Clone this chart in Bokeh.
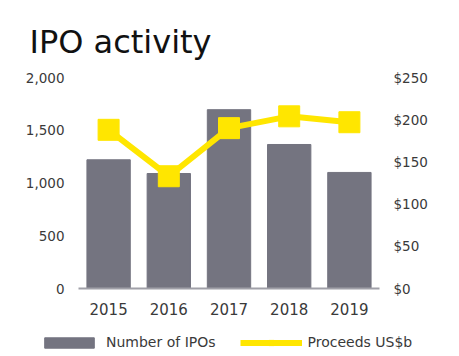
from bokeh.plotting import figure
from bokeh.models import (FactorRange, Range1d, LinearAxis, FixedTicker, NumeralTickFormatter,
                          Legend, LegendItem, Title, ColumnDataSource)
from bokeh.embed import file_html
from bokeh.resources import INLINE

years = ["2015", "2016", "2017", "2018", "2019"]
num_ipos = [1220, 1090, 1695, 1365, 1100]
proceeds = [188, 133, 190, 204, 197]
left_ticks = [0, 500, 1000, 1500, 2000]
right_ticks = [0, 50, 100, 150, 200, 250]

BAR = "#747480"
YEL = "#FFE600"
TXT = "#3a3a3a"
FONT = "DejaVu Sans"

src = ColumnDataSource(dict(years=years, n=num_ipos, p=proceeds))

p = figure(frame_width=301, frame_height=211, x_range=FactorRange(*years), y_range=Range1d(0, 2000),
           output_backend="svg", toolbar_location=None, min_border_left=78,
           min_border_right=80, min_border_top=77, min_border_bottom=42)
p.extra_y_ranges = {"proc": Range1d(0, 250)}
p.outline_line_color = None
p.xgrid.grid_line_color = None
p.ygrid.grid_line_color = None

bars = p.vbar(x="years", top="n", width=0.72, color=BAR, source=src)
ln = p.line(x="years", y="p", line_width=6, color=YEL, y_range_name="proc", source=src)
sc = p.scatter(x="years", y="p", marker="square", size=21, color=YEL, y_range_name="proc", source=src)

la = p.yaxis[0]
la.ticker = FixedTicker(ticks=left_ticks)
la.formatter = NumeralTickFormatter(format="0,0")
ra = LinearAxis(y_range_name="proc", ticker=FixedTicker(ticks=right_ticks),
                formatter=NumeralTickFormatter(format="$0"))
p.add_layout(ra, "right")
for ax in (la, ra):
    ax.axis_label = None
    ax.axis_line_color = None
    ax.major_tick_line_color = None
    ax.minor_tick_line_color = None
    ax.major_tick_out = 0
    ax.major_label_text_font = FONT
    ax.major_label_text_font_size = "13.5px"
    ax.major_label_text_color = TXT
    ax.major_label_standoff = 14

xa = p.xaxis[0]
xa.axis_label = None
xa.axis_label_standoff = 0
xa.major_tick_out = 0
xa.axis_line_color = "#a0a0a8"
xa.axis_line_width = 2
xa.major_tick_line_color = None
xa.minor_tick_line_color = None
xa.major_label_text_font = FONT
xa.major_label_text_font_size = "15px"
xa.major_label_text_color = TXT
xa.major_label_standoff = 14

p.title = Title(text="IPO activity", text_font=FONT, text_font_size="32px",
                text_font_style="normal", text_color="#111111", align="left",
                offset=-49, standoff=34)

# separate legend strip (own root, so its frame spans the full width)
lg = figure(width=459, height=26, x_range=FactorRange(*years), y_range=Range1d(5000, 6000),
            output_backend="svg", toolbar_location=None, x_axis_location=None,
            y_axis_location=None, min_border=0)
lg.outline_line_color = None
lg.xgrid.grid_line_color = None
lg.ygrid.grid_line_color = None
lb = lg.vbar(x="years", top="n", width=0.72, color=BAR, source=src)
ll = lg.line(x="years", y="p", line_width=6, color=YEL, source=src)
ls = lg.scatter(x="years", y="p", marker="square", size=10, color=YEL, source=src)

legend = Legend(items=[LegendItem(label="Number of IPOs", renderers=[lb]),
                       LegendItem(label="Proceeds US$b", renderers=[ll, ls])],
                orientation="horizontal", location=(38, 6), glyph_width=62,
                glyph_height=13, label_text_font=FONT, label_text_font_size="14px",
                label_text_color=TXT, border_line_color=None, background_fill_alpha=0,
                padding=0, margin=0, spacing=24, label_standoff=6)
lg.add_layout(legend, "center")

open("out.html", "w").write(file_html([p, lg], INLINE))
